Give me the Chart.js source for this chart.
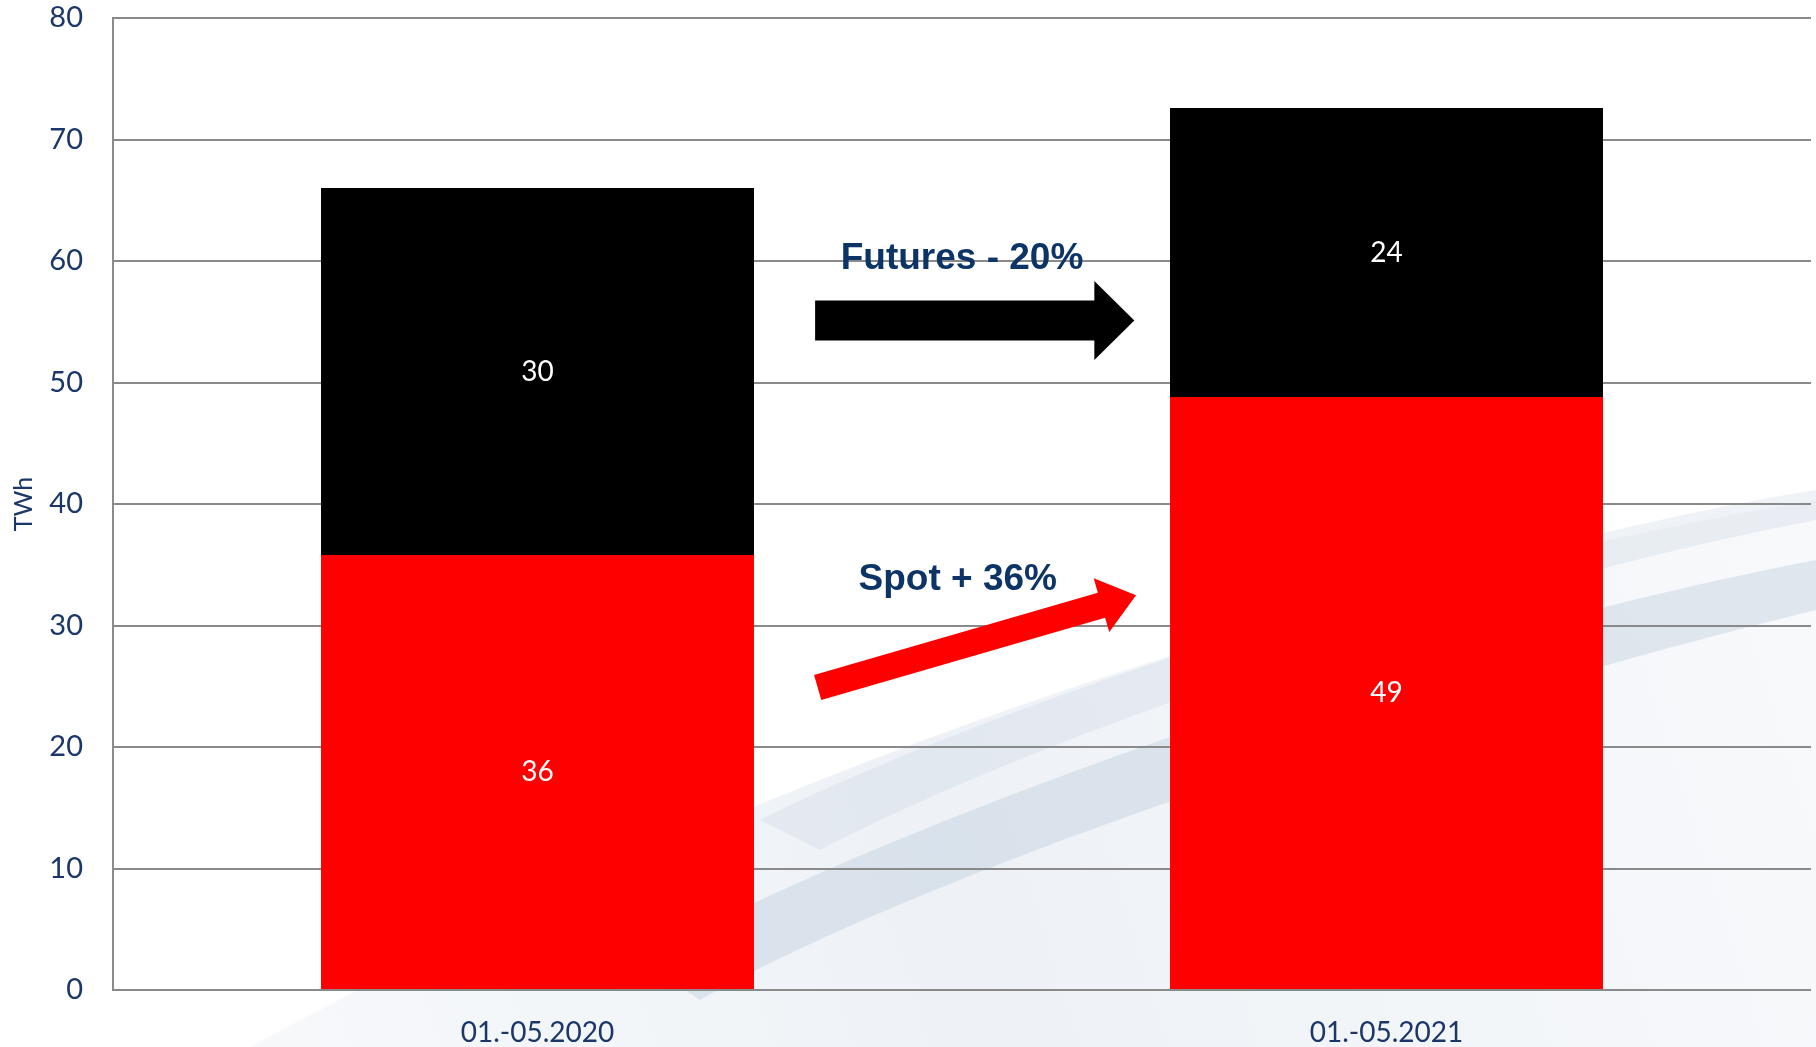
<!DOCTYPE html>
<html>
<head>
<meta charset="utf-8">
<script src="https://cdn.jsdelivr.net/npm/chart.js@4/dist/chart.umd.min.js"></script>
<style>
  html, body { margin: 0; padding: 0; background: #fff; }
  #wrap { width: 1816px; height: 1047px; position: relative; }
</style>
</head>
<body>
<div id="wrap"><canvas id="myChart"></canvas></div>
<script>
// data
const categories = ['01.-05.2020', '01.-05.2021'];
const spotValues = [35.8, 48.8];
const futuresValues = [30.2, 23.8];
const yMin = 0, yMax = 80, yStep = 10;

// annotations (text + arrows), placed in data units (x = category index, y = TWh)
const noteTexts = ['Futures - 20%', 'Spot + 36%'];
const noteTextPos = [[0.5, 60.2], [0.495, 33.8]];
const arrowColors = ['#000000', '#ff0000'];
const arrowFrom = [[0.327, 55.1], [0.33, 24.9]];
const arrowTo = [[0.703, 55.1], [0.705, 32.5]];

const navy = '#1b3668';
const gridGrey = '#8a8a8a';

// faint swoosh behind the plot
const backdrop = {
  id: 'backdrop',
  beforeDraw(chart) {
    const c = chart.ctx, w = chart.width, h = chart.height;
    c.save();
    c.fillStyle = '#ffffff';
    c.fillRect(0, 0, w, h);
    // wide pale sheet
    const g = c.createLinearGradient(0, h, w, h * 0.45);
    g.addColorStop(0, 'rgba(215,225,235,0.15)');
    g.addColorStop(0.5, 'rgba(205,217,230,0.35)');
    g.addColorStop(1, 'rgba(225,232,240,0.25)');
    c.fillStyle = g;
    c.beginPath();
    c.moveTo(250, h);
    c.quadraticCurveTo(1000, 640, w, 500);
    c.lineTo(w, h);
    c.closePath();
    c.fill();
    // darker curved stroke
    c.fillStyle = 'rgba(170,188,208,0.3)';
    c.beginPath();
    c.moveTo(640, 960);
    c.bezierCurveTo(900, 820, 1400, 640, w, 560);
    c.lineTo(w, 610);
    c.bezierCurveTo(1450, 700, 950, 860, 700, 1000);
    c.closePath();
    c.fill();
    c.fillStyle = 'rgba(190,204,220,0.25)';
    c.beginPath();
    c.moveTo(760, 820);
    c.bezierCurveTo(1000, 700, 1500, 540, w, 490);
    c.lineTo(w, 520);
    c.bezierCurveTo(1500, 580, 1050, 730, 820, 850);
    c.closePath();
    c.fill();
    c.restore();
  }
};

// values in the middle of each segment
const segLabels = {
  id: 'segLabels',
  afterDatasetsDraw(chart) {
    const c = chart.ctx;
    c.save();
    c.fillStyle = '#ffffff';
    c.font = '28px Lato, "Open Sans", sans-serif';
    c.textAlign = 'center';
    c.textBaseline = 'middle';
    chart.data.datasets.forEach((ds, i) => {
      chart.getDatasetMeta(i).data.forEach((bar, j) => {
        c.fillText(Math.round(ds.data[j]), bar.x, (bar.y + bar.base) / 2);
      });
    });
    c.restore();
  }
};

function drawArrow(c, x1, y1, x2, y2, shaft, head, headLen, color) {
  const ang = Math.atan2(y2 - y1, x2 - x1);
  const len = Math.hypot(x2 - x1, y2 - y1);
  c.save();
  c.translate(x1, y1);
  c.rotate(ang);
  c.fillStyle = color;
  c.beginPath();
  c.moveTo(0, -shaft / 2);
  c.lineTo(len - headLen, -shaft / 2);
  c.lineTo(len - headLen, -head / 2);
  c.lineTo(len, 0);
  c.lineTo(len - headLen, head / 2);
  c.lineTo(len - headLen, shaft / 2);
  c.lineTo(0, shaft / 2);
  c.closePath();
  c.fill();
  c.restore();
}

const notes = {
  id: 'notes',
  afterDatasetsDraw(chart) {
    const c = chart.ctx, xs = chart.scales.x, ys = chart.scales.y;
    arrowColors.forEach((col, i) => {
      const big = i === 0;
      drawArrow(c,
        xs.getPixelForValue(arrowFrom[i][0]), ys.getPixelForValue(arrowFrom[i][1]),
        xs.getPixelForValue(arrowTo[i][0]), ys.getPixelForValue(arrowTo[i][1]),
        big ? 40 : 26, big ? 79 : 56, big ? 40 : 36, col);
    });
    c.save();
    c.fillStyle = '#0c3466';
    c.font = 'bold 37px "Liberation Sans", Arial, sans-serif';
    c.textAlign = 'center';
    c.textBaseline = 'middle';
    noteTexts.forEach((t, i) => {
      c.fillText(t, xs.getPixelForValue(noteTextPos[i][0]), ys.getPixelForValue(noteTextPos[i][1]));
    });
    c.restore();
  }
};

new Chart(document.getElementById('myChart'), {
  type: 'bar',
  data: {
    labels: categories,
    datasets: [
      { label: 'Spot', data: spotValues, backgroundColor: '#ff0000', borderWidth: 0 },
      { label: 'Futures', data: futuresValues, backgroundColor: '#000000', borderWidth: 0 }
    ]
  },
  options: {
    responsive: true,
    maintainAspectRatio: false,
    animation: false,
    layout: { padding: { top: 18, right: 5, left: 0, bottom: 0 } },
    plugins: { legend: { display: false }, tooltip: { enabled: false } },
    datasets: { bar: { categoryPercentage: 1, barPercentage: 0.51 } },
    scales: {
      x: {
        stacked: true,
        grid: { display: false, drawTicks: false },
        border: { display: false },
        ticks: { color: navy, padding: 26, font: { size: 28, family: 'Lato, "Open Sans", sans-serif' } },
        afterFit(s) { s.height = 57; s.paddingLeft = 0; s.paddingRight = 0; }
      },
      y: {
        stacked: true,
        min: yMin, max: yMax,
        ticks: { stepSize: yStep, color: navy, padding: 30, font: { size: 29, family: 'Lato, "Open Sans", sans-serif' } },
        grid: { color: gridGrey, lineWidth: 2, drawTicks: false },
        border: { display: true, color: gridGrey, width: 2 },
        title: { display: true, text: 'TWh', color: navy, padding: { top: 9, bottom: 0 }, font: { size: 25, family: 'Lato, "Open Sans", sans-serif' } },
        afterFit(s) { s.width = 113; s.paddingTop = 0; s.paddingBottom = 0; }
      }
    }
  },
  plugins: [backdrop, segLabels, notes]
});
</script>
</body>
</html>
